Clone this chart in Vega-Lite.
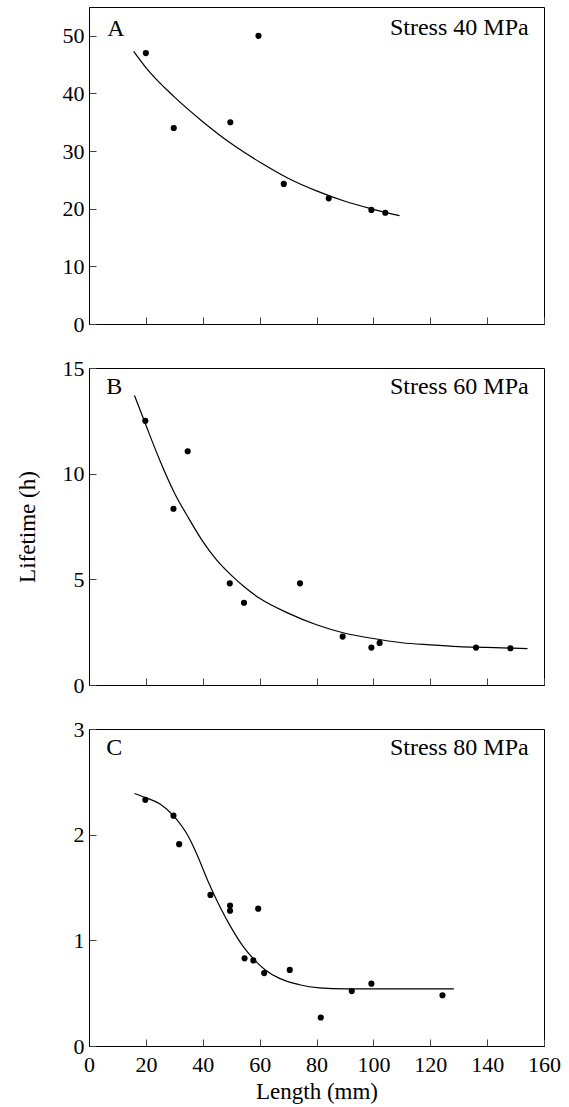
{
  "$schema": "https://vega.github.io/schema/vega-lite/v6.json",
  "padding": {"left": 15, "top": 6, "right": 0, "bottom": 0},
  "background": "white",
  "spacing": 44,
  "bounds": "flush",
  "config": {
    "view": {"stroke": "black", "strokeWidth": 1},
    "font": "Liberation Serif",
    "text": {"font": "Liberation Serif", "fontSize": 24, "color": "black"},
    "axis": {
      "grid": false,
      "labelFont": "Liberation Serif",
      "labelFontSize": 22,
      "labelColor": "black",
      "labelFlush": false,
      "labelOverlap": false,
      "domainColor": "black",
      "domainWidth": 1,
      "tickColor": "#444",
      "tickSize": -7,
      "tickWidth": 1,
      "titleFont": "Liberation Serif",
      "titleFontSize": 23,
      "titleFontWeight": "normal",
      "titleColor": "black"
    },
    "axisY": {"labelPadding": 12, "minExtent": 27, "maxExtent": 27, "format": "d"},
    "axisX": {"labelPadding": 15, "format": "d"}
  },
  "datasets": {
    "ptsA": [
      {"length": 20, "lifetime": 47.0},
      {"length": 29.8, "lifetime": 34.0},
      {"length": 49.7, "lifetime": 35.0},
      {"length": 59.6, "lifetime": 50.0},
      {"length": 68.5, "lifetime": 24.3},
      {"length": 84.3, "lifetime": 21.8},
      {"length": 99.3, "lifetime": 19.8},
      {"length": 104.2, "lifetime": 19.3}
    ],
    "fitA": [
      {"length": 15.7, "lifetime": 47.3},
      {"length": 20, "lifetime": 44.5},
      {"length": 30, "lifetime": 39.4},
      {"length": 40, "lifetime": 35.1},
      {"length": 50, "lifetime": 31.3},
      {"length": 60, "lifetime": 28.1},
      {"length": 70, "lifetime": 25.3},
      {"length": 80, "lifetime": 23.1},
      {"length": 90, "lifetime": 21.3},
      {"length": 100, "lifetime": 19.9},
      {"length": 109.2, "lifetime": 18.8}
    ],
    "ptsB": [
      {"length": 19.8, "lifetime": 12.5},
      {"length": 29.7, "lifetime": 8.34},
      {"length": 34.7, "lifetime": 11.06},
      {"length": 49.5, "lifetime": 4.81},
      {"length": 54.5, "lifetime": 3.89},
      {"length": 74.2, "lifetime": 4.81},
      {"length": 89.2, "lifetime": 2.29},
      {"length": 99.3, "lifetime": 1.77},
      {"length": 102.2, "lifetime": 1.99},
      {"length": 136.1, "lifetime": 1.77},
      {"length": 148.2, "lifetime": 1.74}
    ],
    "fitB": [
      {"length": 16, "lifetime": 13.7},
      {"length": 20, "lifetime": 12.3},
      {"length": 25, "lifetime": 10.6},
      {"length": 30, "lifetime": 9.1},
      {"length": 35, "lifetime": 7.9},
      {"length": 40, "lifetime": 6.8},
      {"length": 45, "lifetime": 5.9},
      {"length": 50, "lifetime": 5.2},
      {"length": 55, "lifetime": 4.6},
      {"length": 60, "lifetime": 4.1},
      {"length": 70, "lifetime": 3.4},
      {"length": 80, "lifetime": 2.85},
      {"length": 90, "lifetime": 2.45},
      {"length": 100, "lifetime": 2.2},
      {"length": 110, "lifetime": 2.0},
      {"length": 120, "lifetime": 1.9},
      {"length": 130, "lifetime": 1.82},
      {"length": 140, "lifetime": 1.78},
      {"length": 154.2, "lifetime": 1.72}
    ],
    "ptsC": [
      {"length": 19.8, "lifetime": 2.33},
      {"length": 29.7, "lifetime": 2.18},
      {"length": 31.7, "lifetime": 1.91},
      {"length": 42.7, "lifetime": 1.43},
      {"length": 49.6, "lifetime": 1.33},
      {"length": 49.6, "lifetime": 1.28},
      {"length": 59.5, "lifetime": 1.30},
      {"length": 54.7, "lifetime": 0.83},
      {"length": 57.8, "lifetime": 0.81},
      {"length": 61.6, "lifetime": 0.69},
      {"length": 70.6, "lifetime": 0.72},
      {"length": 81.5, "lifetime": 0.27},
      {"length": 92.4, "lifetime": 0.52},
      {"length": 99.3, "lifetime": 0.59},
      {"length": 124.3, "lifetime": 0.48}
    ],
    "fitC": [
      {"length": 16, "lifetime": 2.39},
      {"length": 20, "lifetime": 2.35},
      {"length": 25, "lifetime": 2.29},
      {"length": 30, "lifetime": 2.17},
      {"length": 35, "lifetime": 1.98},
      {"length": 38, "lifetime": 1.81},
      {"length": 42, "lifetime": 1.55},
      {"length": 46, "lifetime": 1.32},
      {"length": 50, "lifetime": 1.12},
      {"length": 54, "lifetime": 0.95},
      {"length": 58, "lifetime": 0.82},
      {"length": 62, "lifetime": 0.72},
      {"length": 67, "lifetime": 0.64},
      {"length": 74, "lifetime": 0.58},
      {"length": 81, "lifetime": 0.55},
      {"length": 90, "lifetime": 0.54},
      {"length": 128.3, "lifetime": 0.54}
    ],
    "labA": [{"panel": "A", "stress": "Stress 40 MPa"}],
    "labB": [{"panel": "B", "stress": "Stress 60 MPa"}],
    "labC": [{"panel": "C", "stress": "Stress 80 MPa"}]
  },
  "vconcat": [
    {
      "width": 455,
      "height": 317,
      "layer": [
        {
          "data": {"name": "fitA"},
          "mark": {"type": "line", "color": "black", "strokeWidth": 1.2, "interpolate": "monotone"},
          "encoding": {
            "x": {"field": "length", "type": "quantitative", "scale": {"domain": [0, 160], "nice": false},
                  "axis": {"values": [0, 20, 40, 60, 80, 100, 120, 140, 160], "labels": false, "title": null}},
            "y": {"field": "lifetime", "type": "quantitative", "scale": {"domain": [0, 55], "nice": false},
                  "axis": {"values": [0, 10, 20, 30, 40, 50], "title": " ", "titlePadding": 23}}
          }
        },
        {
          "data": {"name": "ptsA"},
          "mark": {"type": "circle", "color": "black", "size": 38, "opacity": 1},
          "encoding": {
            "x": {"field": "length", "type": "quantitative"},
            "y": {"field": "lifetime", "type": "quantitative"}
          }
        },
        {
          "data": {"name": "labA"},
          "mark": {"type": "text", "align": "left", "baseline": "alphabetic"},
          "encoding": {
            "x": {"datum": 6.4, "type": "quantitative"},
            "y": {"datum": 50.0, "type": "quantitative"},
            "text": {"field": "panel"}
          }
        },
        {
          "data": {"name": "labA"},
          "mark": {"type": "text", "align": "right", "baseline": "alphabetic"},
          "encoding": {
            "x": {"datum": 154.6, "type": "quantitative"},
            "y": {"datum": 50.1, "type": "quantitative"},
            "text": {"field": "stress"}
          }
        }
      ]
    },
    {
      "width": 455,
      "height": 317,
      "layer": [
        {
          "data": {"name": "fitB"},
          "mark": {"type": "line", "color": "black", "strokeWidth": 1.2, "interpolate": "monotone"},
          "encoding": {
            "x": {"field": "length", "type": "quantitative", "scale": {"domain": [0, 160], "nice": false},
                  "axis": {"values": [0, 20, 40, 60, 80, 100, 120, 140, 160], "labels": false, "title": null}},
            "y": {"field": "lifetime", "type": "quantitative", "scale": {"domain": [0, 15], "nice": false},
                  "axis": {"values": [0, 5, 10, 15], "title": "Lifetime (h)", "titlePadding": 23, "titleFontSize": 23}}
          }
        },
        {
          "data": {"name": "ptsB"},
          "mark": {"type": "circle", "color": "black", "size": 38, "opacity": 1},
          "encoding": {
            "x": {"field": "length", "type": "quantitative"},
            "y": {"field": "lifetime", "type": "quantitative"}
          }
        },
        {
          "data": {"name": "labB"},
          "mark": {"type": "text", "align": "left", "baseline": "alphabetic"},
          "encoding": {
            "x": {"datum": 6.1, "type": "quantitative"},
            "y": {"datum": 13.76, "type": "quantitative"},
            "text": {"field": "panel"}
          }
        },
        {
          "data": {"name": "labB"},
          "mark": {"type": "text", "align": "right", "baseline": "alphabetic"},
          "encoding": {
            "x": {"datum": 154.6, "type": "quantitative"},
            "y": {"datum": 13.79, "type": "quantitative"},
            "text": {"field": "stress"}
          }
        }
      ]
    },
    {
      "width": 455,
      "height": 317,
      "layer": [
        {
          "data": {"name": "fitC"},
          "mark": {"type": "line", "color": "black", "strokeWidth": 1.2, "interpolate": "monotone"},
          "encoding": {
            "x": {"field": "length", "type": "quantitative", "scale": {"domain": [0, 160], "nice": false},
                  "axis": {"values": [0, 20, 40, 60, 80, 100, 120, 140, 160], "title": "Length (mm)", "titlePadding": 5, "titleFontSize": 23}},
            "y": {"field": "lifetime", "type": "quantitative", "scale": {"domain": [0, 3], "nice": false},
                  "axis": {"values": [0, 1, 2, 3], "title": " ", "titlePadding": 23}}
          }
        },
        {
          "data": {"name": "ptsC"},
          "mark": {"type": "circle", "color": "black", "size": 38, "opacity": 1},
          "encoding": {
            "x": {"field": "length", "type": "quantitative"},
            "y": {"field": "lifetime", "type": "quantitative"}
          }
        },
        {
          "data": {"name": "labC"},
          "mark": {"type": "text", "align": "left", "baseline": "alphabetic"},
          "encoding": {
            "x": {"datum": 6.1, "type": "quantitative"},
            "y": {"datum": 2.75, "type": "quantitative"},
            "text": {"field": "panel"}
          }
        },
        {
          "data": {"name": "labC"},
          "mark": {"type": "text", "align": "right", "baseline": "alphabetic"},
          "encoding": {
            "x": {"datum": 154.6, "type": "quantitative"},
            "y": {"datum": 2.75, "type": "quantitative"},
            "text": {"field": "stress"}
          }
        }
      ]
    }
  ]
}
